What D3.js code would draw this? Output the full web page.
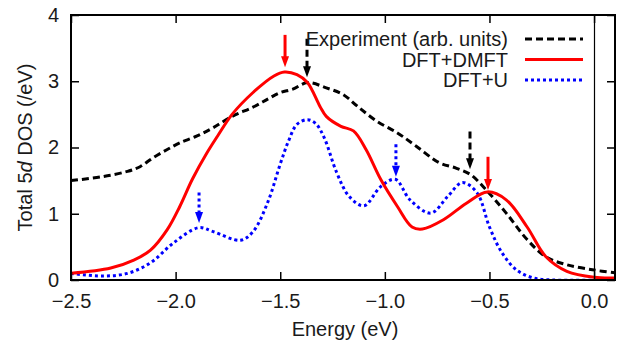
<!DOCTYPE html>
<html><head><meta charset="utf-8">
<script src="https://cdn.jsdelivr.net/npm/d3@7"></script>
<style>body{margin:0;background:#fff}svg{display:block}text{font-family:"Liberation Sans",Arial,sans-serif;fill:#1a1a1a}</style>
</head><body><svg id="c" width="623" height="345"></svg>
<script>
const expE=[-2.5,-2.35,-2.23,-2.17,-2.11,-2.04,-1.98,-1.90,-1.82,-1.73,-1.63,-1.56,-1.50,-1.44,-1.37,-1.28,-1.20,-1.13,-1.04,-0.94,-0.85,-0.74,-0.66,-0.59,-0.51,-0.42,-0.32,-0.23,-0.13,0.0,0.1];
const expV=[1.50,1.56,1.64,1.71,1.84,1.97,2.07,2.17,2.30,2.47,2.61,2.73,2.83,2.88,2.98,2.90,2.80,2.62,2.40,2.22,2.02,1.77,1.69,1.59,1.34,1.01,0.61,0.35,0.23,0.15,0.11];
const dmftE=[-2.5,-2.31,-2.2,-2.12,-2.04,-1.98,-1.92,-1.85,-1.80,-1.73,-1.63,-1.53,-1.48,-1.42,-1.37,-1.31,-1.28,-1.21,-1.15,-1.09,-1.02,-0.94,-0.87,-0.82,-0.72,-0.61,-0.51,-0.42,-0.32,-0.23,-0.13,0,0.1];
const dmftV=[0.10,0.18,0.30,0.45,0.76,1.11,1.52,1.92,2.17,2.50,2.83,3.08,3.14,3.10,2.98,2.62,2.47,2.32,2.25,1.97,1.52,1.11,0.80,0.77,0.91,1.16,1.33,1.21,0.80,0.35,0.13,0.04,0.03];
const uE=[-2.5,-2.35,-2.23,-2.12,-2.01,-1.89,-1.82,-1.69,-1.63,-1.56,-1.50,-1.46,-1.42,-1.37,-1.33,-1.29,-1.23,-1.17,-1.10,-1.02,-0.95,-0.88,-0.78,-0.70,-0.63,-0.56,-0.50,-0.44,-0.37,-0.29,-0.2,0.1];
const uV=[0.10,0.06,0.10,0.26,0.56,0.79,0.73,0.60,0.73,1.17,1.75,2.10,2.35,2.42,2.36,2.15,1.62,1.26,1.12,1.41,1.52,1.21,1.01,1.26,1.47,1.32,0.80,0.41,0.15,0.03,0.0,0.0];
const seriesNames=["Experiment (arb. units)","DFT+DMFT","DFT+U"];
const xTicks=[-2.5,-2.0,-1.5,-1.0,-0.5,0.0];
const yTicks=[0,1,2,3,4];
// arrows: energy, start value, tip value, series index
const arrowE=[-1.477,-1.372,-1.888,-0.947,-0.593,-0.507];
const arrowFrom=[3.70,3.64,1.32,2.05,2.24,1.86];
const arrowTo=[3.21,3.06,0.86,1.56,1.67,1.36];
const arrowSeries=[1,0,2,2,0,1];

const L=71,R=615,T=15,B=280;
const svg=d3.select("#c");
const x=d3.scaleLinear().domain([-2.5,0.1]).range([L,R]);
const y=d3.scaleLinear().domain([0,4]).range([B,T]);
const styles=[{c:"#000",d:"7,4"},{c:"#ff0000",d:null},{c:"#0000ff",d:"3,3"}];
const data=[expE.map((e,i)=>[e,expV[i]]),dmftE.map((e,i)=>[e,dmftV[i]]),uE.map((e,i)=>[e,uV[i]])];
const line=d3.line().x(d=>x(d[0])).y(d=>y(d[1])).curve(d3.curveCatmullRom.alpha(0.5));
const g=svg.append("g");
g.append("defs").append("clipPath").attr("id","cl").append("rect").attr("x",L).attr("y",T).attr("width",R-L).attr("height",B-T);
// vertical line at 0
g.append("line").attr("x1",Math.round(x(0))+0.5).attr("x2",Math.round(x(0))+0.5).attr("y1",T).attr("y2",B).attr("stroke","#000").attr("stroke-width",1.2);
[0,2,1].forEach(i=>{
  g.append("path").attr("d",line(data[i])).attr("fill","none").attr("stroke",styles[i].c).attr("stroke-width",3)
   .attr("stroke-dasharray",styles[i].d).attr("clip-path","url(#cl)");
});
// arrows
arrowE.forEach((e,i)=>{
  const s=styles[arrowSeries[i]];
  const xx=x(e),y0=y(arrowFrom[i]),y1=y(arrowTo[i]);
  const hl=11,hw=4;
  g.append("line").attr("x1",xx).attr("x2",xx).attr("y1",y0).attr("y2",y1-hl+1)
   .attr("stroke",s.c).attr("stroke-width",3).attr("stroke-dasharray",s.d);
  g.append("path").attr("d",`M${xx-hw},${y1-hl}L${xx+hw},${y1-hl}L${xx},${y1}Z`).attr("fill",s.c);
});
// axes with inward ticks, mirrored
const tl=8;
const ax=g.append("g").attr("transform",`translate(0,${B})`).call(d3.axisBottom(x).tickValues(xTicks).tickSize(-tl).tickPadding(14).tickFormat(d=>d===0?"0.0":d3.format(".1f")(d).replace("-","\u2212")));
const ax2=g.append("g").attr("transform",`translate(0,${T})`).call(d3.axisTop(x).tickValues(xTicks).tickSize(-tl).tickFormat(""));
const ay=g.append("g").attr("transform",`translate(${L},0)`).call(d3.axisLeft(y).tickValues(yTicks).tickSize(-tl).tickPadding(12).tickFormat(d3.format("d")));
const ay2=g.append("g").attr("transform",`translate(${R},0)`).call(d3.axisRight(y).tickValues(yTicks).tickSize(-tl).tickFormat(""));
[ax,ax2,ay,ay2].forEach(a=>{a.select(".domain").remove();a.selectAll(".tick line").attr("stroke","#000").attr("stroke-width",1.5);
  a.selectAll("text").style("font-size","20px").attr("fill","#1a1a1a");});
g.append("rect").attr("x",L).attr("y",T).attr("width",R-L).attr("height",B-T).attr("fill","none").attr("stroke","#000").attr("stroke-width",2);
// labels
g.append("text").attr("x",(L+R)/2+2).attr("y",336).attr("text-anchor","middle").style("font-size","20px").text("Energy (eV)");
const yl=g.append("text").attr("transform",`translate(32,${(T+B)/2}) rotate(-90)`).attr("text-anchor","middle").style("font-size","20px");
yl.append("tspan").text("Total 5");
yl.append("tspan").style("font-style","italic").text("d");
yl.append("tspan").text(" DOS (/eV)");
// legend
seriesNames.forEach((n,i)=>{
  const ly=39+i*20.5;
  g.append("text").attr("x",508).attr("y",ly+7).attr("text-anchor","end").style("font-size","20px").text(n);
  g.append("line").attr("x1",525).attr("x2",583).attr("y1",ly).attr("y2",ly).attr("stroke",styles[i].c).attr("stroke-width",3).attr("stroke-dasharray",styles[i].d);
});
</script></body></html>
